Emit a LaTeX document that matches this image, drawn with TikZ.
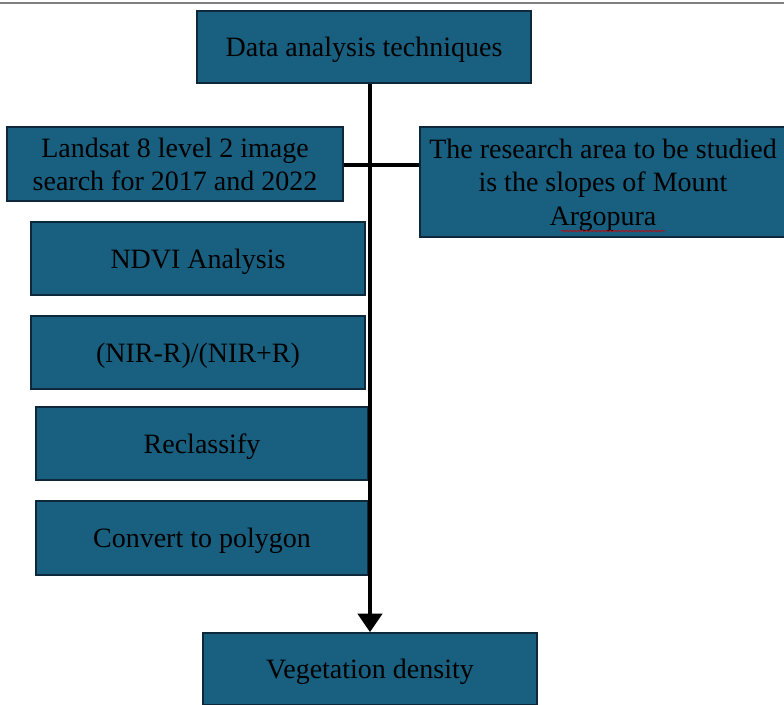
\documentclass[tikz,border=0pt]{standalone}
\usepackage{fontspec}
\setmainfont{Liberation Serif}
\usepackage{tikz}
\usetikzlibrary{arrows.meta,decorations.pathmorphing}

\definecolor{boxblue}{RGB}{24,95,128}
\definecolor{boxedge}{RGB}{12,40,58}

\tikzset{
  stepbox/.style={rectangle,fill=boxblue,draw=boxedge,line width=1.2pt,
    inner sep=0pt,align=center,text=black,text depth=0pt,
    font=\fontsize{21}{25}\selectfont},
  flowline/.style={line width=3.6pt,black}
}

\begin{document}
\begin{tikzpicture}[x=0.75pt,y=-0.75pt]
		\useasboundingbox (0,0) rectangle (784,704);
		% rule at the top
		\draw[gray,line width=0.8pt] (0,3)--(784,3);
		% boxes
		\node[stepbox,minimum width=250.5pt,minimum height=54pt] (tech) at (364,47) {Data analysis techniques};
		\node[stepbox,minimum width=252pt,minimum height=55.5pt] (landsat) at (175,164) {Landsat 8 level 2 image\\search for 2017 and 2022};
		\node[stepbox,minimum width=274.5pt,minimum height=82.5pt,text depth=-6pt] (area) at (603,182) {The research area to be studied\\is the slopes of Mount\\Argopura};
		\node[stepbox,minimum width=250.5pt,minimum height=54.75pt] (ndvi) at (198,258.5) {NDVI Analysis};
		\node[stepbox,minimum width=250.5pt,minimum height=54.75pt] (ratio) at (198,352.5) {(NIR-R)/(NIR+R)};
		\node[stepbox,minimum width=249pt,minimum height=54.75pt] (reclass) at (202,443.5) {Reclassify};
		\node[stepbox,minimum width=249pt,minimum height=55.5pt] (poly) at (202,538) {Convert to polygon};
		\node[stepbox,minimum width=250.5pt,minimum height=54pt] (veg) at (370,669) {Vegetation density};
		% spell-check mark under Argopura
		\draw[red!80!black,line width=0.5pt,decorate,decoration={snake,amplitude=0.6pt,segment length=3pt}] (561,231)--(665,231);
		% connectors
		\draw[flowline] (landsat.east|-0,165)--(area.west|-0,165);
		\draw[flowline,-{Triangle[length=14pt,width=18pt]}] (tech.south-|370,0)--(veg.north-|370,0);
	\end{tikzpicture}
\end{document}
